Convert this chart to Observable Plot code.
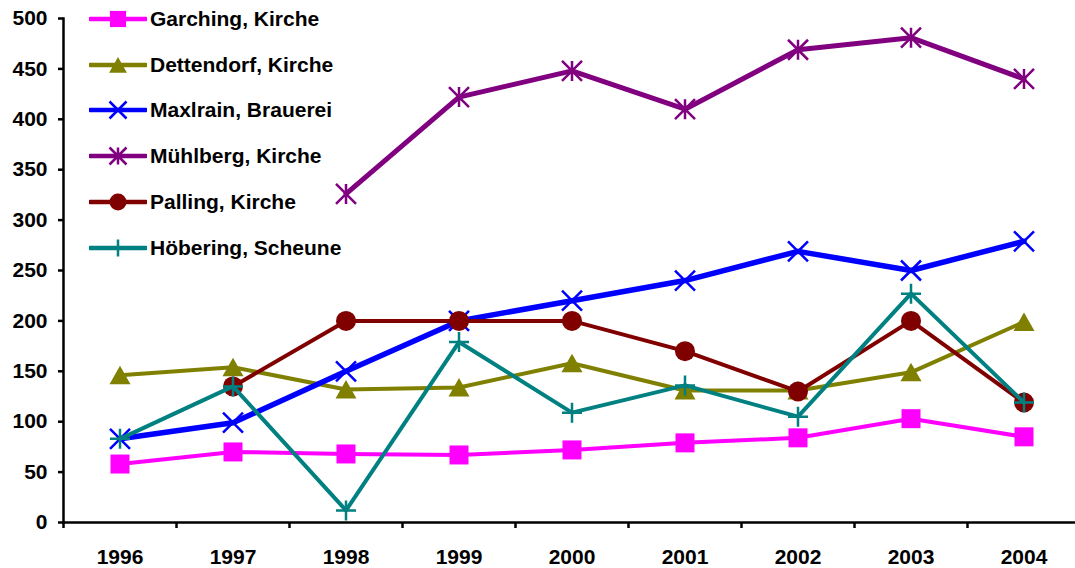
<!DOCTYPE html>
<html><head><meta charset="utf-8">
<script src="https://cdn.jsdelivr.net/npm/d3@7"></script>
<script src="https://cdn.jsdelivr.net/npm/@observablehq/plot@0.6"></script>
<style>
body{margin:0;background:#fff;font-family:"Liberation Sans",Arial,sans-serif;}
#wrap{position:relative;width:1075px;height:568px;overflow:hidden;}
#legend{position:absolute;left:0;top:0;}
.row{position:absolute;left:89px;height:30px;display:flex;align-items:center;}
.row span{display:inline-block;font-weight:bold;font-size:21px;color:#000;margin-left:3px;white-space:nowrap;}
</style></head><body><div id="wrap"><div id="legend"></div></div>
<script>
const years = ["1996","1997","1998","1999","2000","2001","2002","2003","2004"];
const yTicks = [0,50,100,150,200,250,300,350,400,450,500];
const seriesNames = ["Garching, Kirche","Dettendorf, Kirche","Maxlrain, Brauerei","Mühlberg, Kirche","Palling, Kirche","Höbering, Scheune"];
const seriesColors = ["#FF00FF","#808000","#0000FF","#800080","#800000","#008080"];
const garching   = [58,70,68,67,72,79,84,103,85];
const dettendorf = [146,154,132,134,158,131,131,149,199];
const maxlrain   = [83,99,150,200,220,240,269,250,279];
const muehlberg  = [null,null,326,422,448,410,469,481,440];
const palling    = [null,135,200,200,200,170,130,200,119];
const hoebering  = [83,135,12,179,109,136,105,227,119];
const seriesValues = [garching,dettendorf,maxlrain,muehlberg,palling,hoebering];

// Excel-like marker shapes (size = r*r*PI)
const rad = s => Math.sqrt(s/Math.PI);
const symSquare = {draw(c,s){const r=rad(s);c.rect(-r,-r,2*r,2*r);}};
const symTriangle = {draw(c,s){const r=rad(s);c.moveTo(0,-r*0.95);c.lineTo(r*1.05,r*0.9);c.lineTo(-r*1.05,r*0.9);c.closePath();}};
const symTimes = {draw(c,s){const r=rad(s);c.moveTo(-r,-r);c.lineTo(r,r);c.moveTo(r,-r);c.lineTo(-r,r);}};
const symStar = {draw(c,s){const r=rad(s);c.moveTo(-r,-r);c.lineTo(r,r);c.moveTo(r,-r);c.lineTo(-r,r);c.moveTo(0,-r);c.lineTo(0,r);}};
const symCircle = {draw(c,s){const r=rad(s);c.moveTo(r,0);c.arc(0,0,r,0,2*Math.PI);}};
const symPlus = {draw(c,s){const r=rad(s);c.moveTo(-r,0);c.lineTo(r,0);c.moveTo(0,-r);c.lineTo(0,r);}};
const style = [
  {sym:symSquare, filled:true, r:9.5, lw:4},
  {sym:symTriangle, filled:true, r:10, lw:4},
  {sym:symTimes, filled:false, r:10, lw:5.5, sw:2.5},
  {sym:symStar, filled:false, r:10, lw:5, sw:2.5},
  {sym:symCircle, filled:true, r:10, lw:4},
  {sym:symPlus, filled:false, r:10, lw:4, sw:2.5}
];

const marks = [
  Plot.axisY({ticks: yTicks, tickSize: 5, tickPadding: 11, label: null, strokeWidth: 2.5, fill: "black"}),
  Plot.axisX({tickSize: 6, dx: -56.5, tickFormat: () => "", label: null, strokeWidth: 2.5}),
  Plot.axisX({tickSize: 0, tickPadding: 27, label: null, fill: "black"}),
  Plot.frame({anchor: "left", stroke: "black", strokeWidth: 2.5}),
  Plot.frame({anchor: "bottom", stroke: "black", strokeWidth: 2.5})
];
seriesNames.forEach((name, i) => {
  const data = years.map((yr, j) => ({year: yr, value: seriesValues[i][j]})).filter(d => d.value != null);
  const st = style[i];
  marks.push(Plot.line(data, {x: "year", y: "value", stroke: seriesColors[i], strokeWidth: st.lw, strokeLinejoin: "round"}));
  marks.push(Plot.dot(data, {x: "year", y: "value", symbol: st.sym, r: st.r,
    fill: st.filled ? seriesColors[i] : "none",
    stroke: st.filled ? "none" : seriesColors[i],
    strokeWidth: st.sw || 0}));
});

const chart = Plot.plot({
  width: 1075, height: 568,
  marginLeft: 63, marginTop: 18, marginBottom: 46, marginRight: 0,
  x: {type: "band", domain: years, range: [63, 1080], padding: 0},
  y: {domain: [0, 500]},
  style: {fontFamily: '"Liberation Sans", Arial, sans-serif', fontSize: "21px", fontWeight: "bold", color: "black", background: "white", overflow: "visible"},
  marks
});
const wrap = document.getElementById("wrap");
wrap.insertBefore(chart, wrap.firstChild);

// Legend
const legend = document.getElementById("legend");
seriesNames.forEach((name, i) => {
  const row = document.createElement("div");
  row.className = "row";
  row.style.top = (19 + i * 45.7 - 15) + "px";
  const svg = d3.create("svg").attr("width", 58).attr("height", 30);
  svg.append("line").attr("x1", 1).attr("x2", 57).attr("y1", 15).attr("y2", 15)
    .attr("stroke", seriesColors[i]).attr("stroke-width", 4.5).attr("stroke-linecap", "round");
  const st = style[i];
  svg.append("path").attr("transform", "translate(29,15)")
    .attr("d", d3.symbol(st.sym, Math.PI * (st.r * 0.85) ** 2)())
    .attr("fill", st.filled ? seriesColors[i] : "none")
    .attr("stroke", st.filled ? "none" : seriesColors[i])
    .attr("stroke-width", st.sw || 0);
  row.appendChild(svg.node());
  const sp = document.createElement("span");
  sp.textContent = name;
  row.appendChild(sp);
  legend.appendChild(row);
});
</script>
</body></html>
